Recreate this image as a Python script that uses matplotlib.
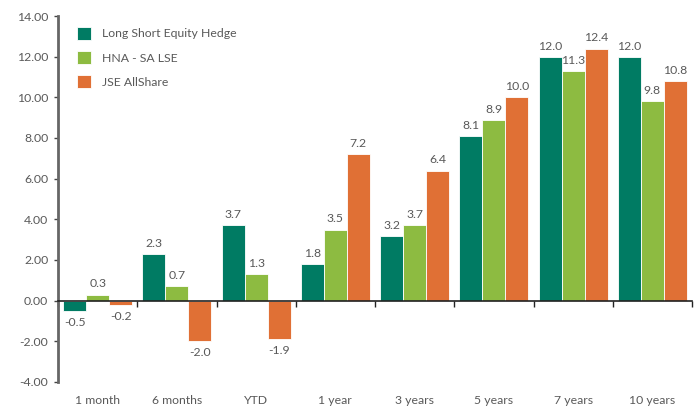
import numpy as np
import matplotlib.pyplot as plt
from matplotlib.transforms import blended_transform_factory

categories = ["1 month", "6 months", "YTD", "1 year", "3 years", "5 years", "7 years", "10 years"]
lseh = [-0.5, 2.3, 3.7, 1.8, 3.2, 8.1, 12.0, 12.0]
hna = [0.3, 0.7, 1.3, 3.5, 3.7, 8.9, 11.3, 9.8]
jse = [-0.2, -2.0, -1.9, 7.2, 6.4, 10.0, 12.4, 10.8]
series_names = ["Long Short Equity Hedge", "HNA - SA LSE", "JSE AllShare"]
colors = ["#007B63", "#8DBB41", "#E07035"]

plt.rcParams['font.family'] = ['Lato', 'DejaVu Sans']
txt = "#595959"
fs = 8.8

fig = plt.figure(figsize=(6.98, 4.08), dpi=100)
ax = fig.add_axes([58 / 698, 1 - 382 / 408, 634 / 698, 366 / 408])

x = np.arange(len(categories))
w = 0.29
for i, (vals, name, c) in enumerate(zip([lseh, hna, jse], series_names, colors)):
    pos = x + (i - 1) * w
    ax.bar(pos, vals, w, color=c, edgecolor="white", linewidth=0.6, label=name, zorder=2)
    for p, v in zip(pos, vals):
        if v >= 0:
            ax.text(p, v + 0.25, f"{v:.1f}", ha="center", va="bottom", fontsize=fs, color=txt)
        else:
            ax.text(p, v - 0.3, f"{v:.1f}", ha="center", va="top", fontsize=fs, color=txt)

ax.set_xlim(-0.5, len(categories) - 0.5)
ax.set_ylim(-4, 14)
ax.set_yticks(np.arange(-4, 15, 2))
ax.set_yticklabels([f"{t:.2f}" for t in np.arange(-4, 15, 2)], fontsize=fs, color=txt)

ax.spines['top'].set_visible(False)
ax.spines['right'].set_visible(False)
ax.spines['bottom'].set_position(('data', 0))
ax.spines['bottom'].set_color("#222222")
ax.spines['bottom'].set_linewidth(1.2)
ax.spines['left'].set_color("#666666")
ax.spines['left'].set_linewidth(2)
ax.tick_params(axis='y', length=3, width=1, color="#444444", pad=4)
ax.set_xticks(np.arange(len(categories) + 1) - 0.5)
ax.set_xticklabels([])
ax.tick_params(axis='x', length=4, width=1, color="#222222", direction='out')

trans = blended_transform_factory(ax.transData, ax.transAxes)
for xi, cat in zip(x, categories):
    ax.text(xi, -0.05, cat, transform=trans, ha="center", va="center", fontsize=fs, color=txt)

leg = ax.legend(loc="upper left", bbox_to_anchor=(0.012, 1.0), frameon=False, fontsize=fs,
                handlelength=1.2, handleheight=1.2, labelspacing=0.95, handletextpad=0.9)
for t in leg.get_texts():
    t.set_color(txt)

fig.savefig("out.png", dpi=100)
